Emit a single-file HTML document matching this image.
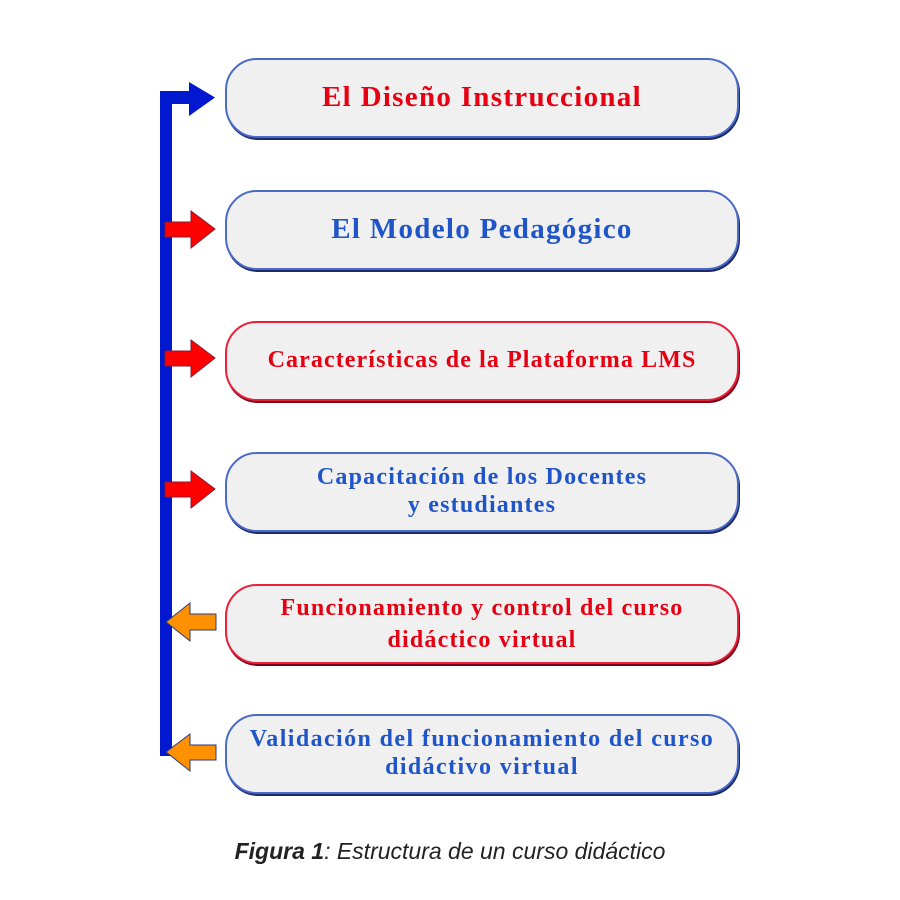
<!DOCTYPE html>
<html><head><style>
body{margin:0;width:900px;height:900px;background:#fff;position:relative;overflow:hidden;font-family:"Liberation Serif",serif}
.b{position:absolute;left:225px;width:510px;height:76px;border-radius:32px;background:#f0f0f0;border:2px solid #4a6ac8;box-shadow:1px 2px 0 #1c2a6a;display:flex;align-items:center;justify-content:center;text-align:center;font-weight:bold;line-height:1.15;font-size:24px;letter-spacing:1.2px;white-space:nowrap}
.r{border-color:#e8203c;box-shadow:1px 2px 0 #7a0018}
.cr{color:#e60012}.cb{color:#1f55c8}
.cap{position:absolute;top:838px;left:0;width:900px;text-align:center;font-family:"Liberation Sans",sans-serif;font-style:italic;font-size:23px;color:#222}
</style></head><body>
<svg width="900" height="900" style="position:absolute;left:0;top:0">
<rect x="160" y="91" width="12" height="665" fill="#0018d0"/>
<rect x="160" y="91" width="32" height="13" fill="#0018d0"/>
<polygon points="189,82 215,97.5 189,116" fill="#0018d0"/>
<g fill="#ff0000" stroke="#8a1a30" stroke-width="1">
<polygon points="165,222 191,222 191,211 215,229 191,248 191,237 165,237"/>
<polygon points="165,351 191,351 191,340 215,358 191,377 191,366 165,366"/>
<polygon points="165,482 191,482 191,471 215,489 191,508 191,497 165,497"/>
</g>
<g fill="#ff9000" stroke="#2a3a80" stroke-width="1">
<polygon points="216,614 190,614 190,603 166,622 190,641 190,630 216,630"/>
<polygon points="216,745 190,745 190,734 166,752 190,771 190,760 216,760"/>
</g>
</svg>
<div class="b cr" style="top:58px;font-size:29px;letter-spacing:1.3px">El Diseño Instruccional</div>
<div class="b cb" style="top:190px;font-size:29px;letter-spacing:1.3px">El Modelo Pedagógico</div>
<div class="b r cr" style="top:321px;letter-spacing:1.1px">Características de la Plataforma LMS</div>
<div class="b cb" style="top:452px">Capacitación de los Docentes<br>y estudiantes</div>
<div class="b r cr" style="top:584px;line-height:1.35">Funcionamiento y control del curso<br>didáctico virtual</div>
<div class="b cb" style="top:714px;letter-spacing:1.4px">Validación del funcionamiento del curso<br>didáctivo virtual</div>
<div class="cap"><b>Figura 1</b>: Estructura de un curso didáctico</div>
</body></html>
